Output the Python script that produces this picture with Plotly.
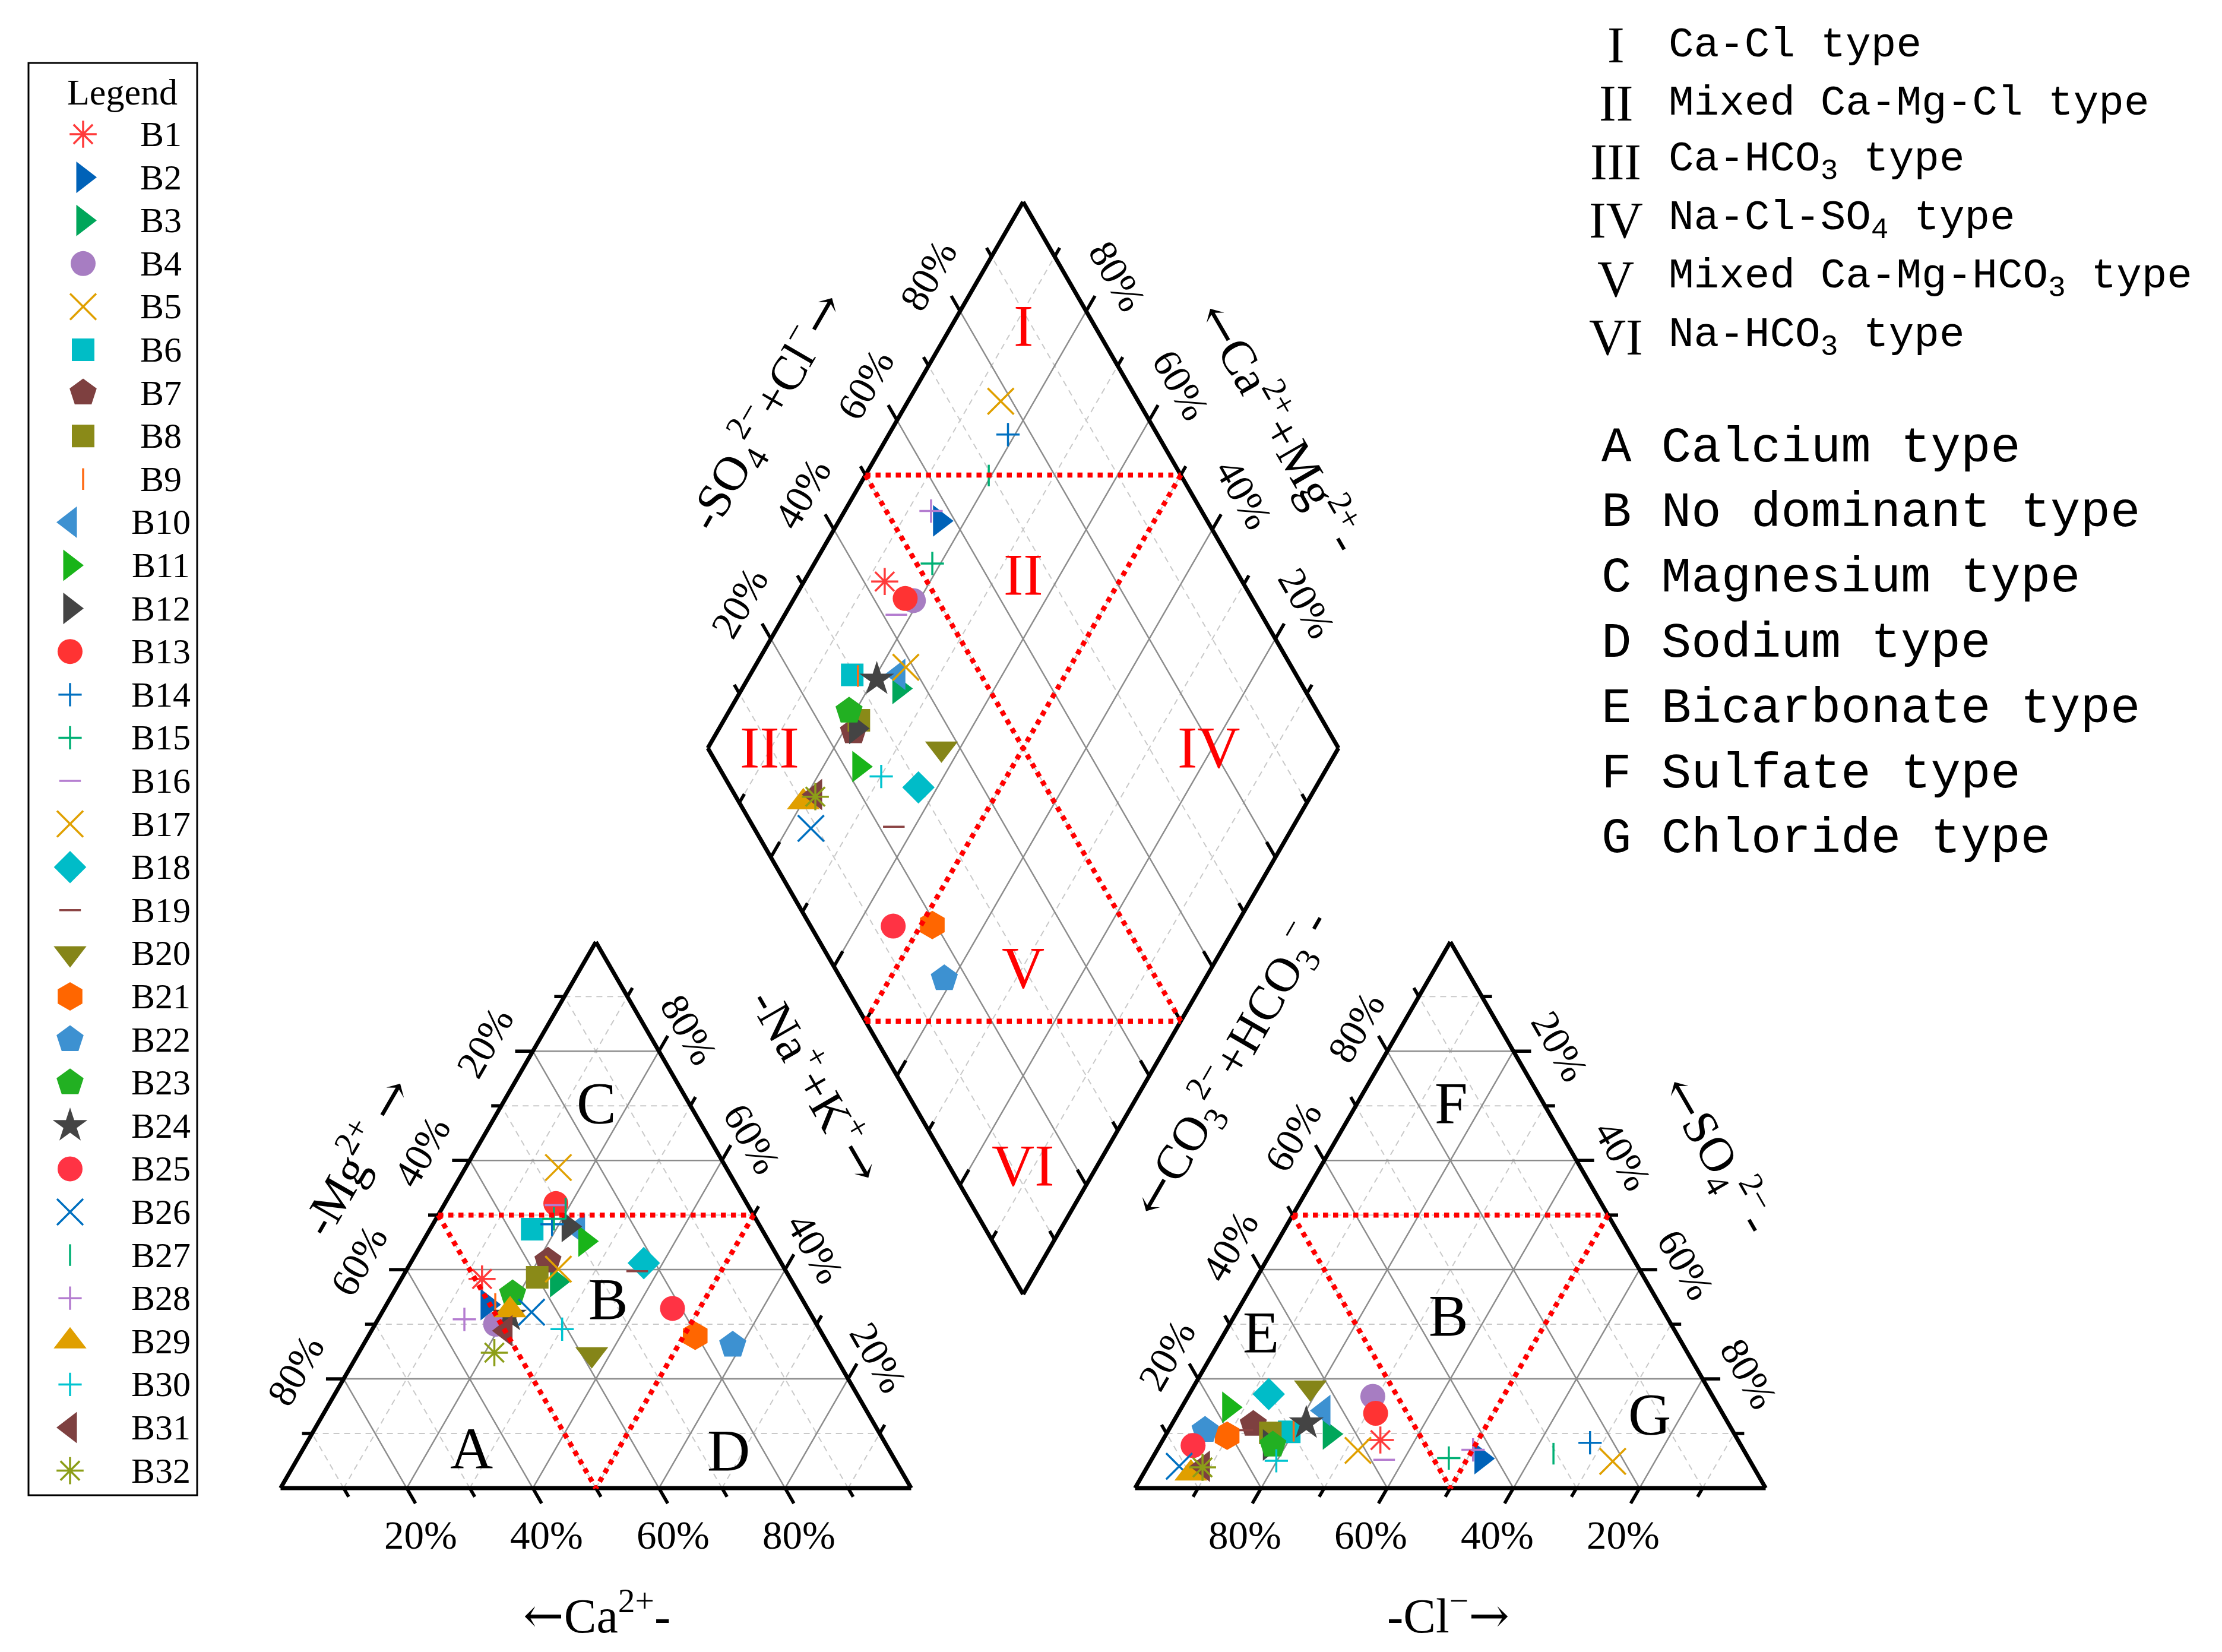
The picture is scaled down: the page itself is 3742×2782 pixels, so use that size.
import math
import plotly.graph_objects as go

# ---------------- data (percent of meq) ----------------
samples = [f"B{i}" for i in range(1, 33)]
ca = [48.9, 50.4, 37.3, 50.9, 26.6, 36.4, 36.8, 40.0, 49.1, 29.1, 29.1, 30.4, 30.3, 32.8, 32.0, 30.5,
      35.9, 21.8, 23.6, 38.4, 20.3, 15.2, 45.4, 47.9, 21.4, 44.1, 29.2, 55.4, 47.3, 40.8, 49.9, 53.7]
mg = [38.3, 33.6, 37.8, 30.0, 58.7, 47.4, 41.6, 38.6, 33.7, 47.4, 45.2, 47.9, 52.1, 48.3, 49.3, 51.8,
      40.1, 41.2, 39.7, 24.5, 27.9, 26.2, 35.6, 31.6, 32.9, 32.2, 51.2, 30.9, 32.6, 29.1, 28.8, 24.8]
na_k = [12.8, 16.0, 24.9, 19.1, 14.7, 16.2, 21.6, 21.4, 17.2, 23.5, 25.7, 21.7, 17.6, 18.9, 18.7, 17.7,
        24.0, 37.0, 36.7, 37.1, 51.8, 58.6, 19.0, 20.5, 45.7, 23.7, 19.6, 13.7, 20.1, 30.1, 21.3, 21.5]
hco3 = [56.7, 42.4, 64.2, 53.9, 21.8, 70.4, 75.4, 73.5, 69.6, 63.0, 77.7, 74.7, 55.0, 23.7, 47.5, 57.9,
        61.2, 70.2, 77.7, 63.0, 80.6, 83.6, 74.2, 66.9, 86.9, 91.0, 30.5, 42.9, 89.8, 75.1, 87.2, 87.4]
so4 = [8.8, 5.4, 9.9, 16.8, 4.9, 10.3, 11.7, 10.1, 10.5, 14.2, 14.8, 7.9, 13.7, 8.3, 5.5, 5.2,
       6.9, 17.2, 10.6, 18.4, 9.6, 10.6, 7.9, 11.9, 7.8, 4.0, 6.3, 7.0, 2.7, 5.0, 4.0, 3.8]
cl = [34.5, 52.2, 25.9, 29.3, 73.3, 19.3, 12.9, 16.4, 19.9, 22.8, 7.5, 17.4, 31.3, 68.0, 47.0, 36.9,
      31.9, 12.6, 11.7, 18.6, 9.8, 5.8, 17.9, 21.2, 5.3, 5.0, 63.2, 50.1, 7.5, 19.9, 8.8, 8.8]

symbols = ["asterisk-open", "triangle-right", "triangle-right", "circle", "x-thin-open", "square",
           "pentagon", "square", "line-ns-open", "triangle-left", "triangle-right", "triangle-right",
           "circle", "cross-thin-open", "cross-thin-open", "line-ew-open", "x-thin-open", "diamond",
           "line-ew-open", "triangle-down", "hexagon", "pentagon", "pentagon", "star", "circle",
           "x-thin-open", "line-ns-open", "cross-thin-open", "triangle-up", "cross-thin-open",
           "triangle-left", "asterisk-open"]
colors = ["#FF3B3B", "#0062B8", "#00A65A", "#A77DC2", "#E0A000", "#00BDC6", "#7E4040", "#8A8A18",
          "#FF6A13", "#3D91D1", "#19B419", "#444444", "#FF3333", "#0070C0", "#00B074", "#B47CD0",
          "#E0A000", "#00BCC8", "#8B4444", "#858518", "#FF6600", "#3D91D1", "#22B022", "#444444",
          "#FF3344", "#0070C0", "#00B074", "#B47CD0", "#E09F00", "#00C4D0", "#7E4040", "#8C9E18"]

tick_vals = [20, 40, 60, 80]

# ---------------- geometry ----------------
W, HP = 3742, 2782          # page (window) size
OFF = 8                     # body margin of the html page
FW, FH = W - 2 * OFF, HP - 2 * OFF
PPU = 10.62                 # pixels per percent unit
ORIG = (472.5, 2506.0)      # page pixel position of the cation triangle's lower-left corner
GAP = 35.5
H = math.sqrt(3) / 2
X0R = 100 + GAP
XB, YB = 100 + GAP / 2, GAP / 2 * math.sqrt(3)


def px2u(px, py):
    return (px - ORIG[0]) / PPU, (ORIG[1] - py) / PPU


def px2paper(px, py):
    return (px - OFF) / FW, 1 - (py - OFF) / FH


def L(c, m, n):
    t = c + m + n
    m, n = m * 100 / t, n * 100 / t
    return n + m / 2, m * H


def R(hc, s, c):
    t = hc + s + c
    s, c = s * 100 / t, c * 100 / t
    return X0R + c + s / 2, s * H


def D(a, b):
    return XB - 0.5 * a + 0.5 * b, YB + H * (a + b)


SERIF = "Liberation Serif, Times New Roman, serif"
MONO = "Liberation Mono, Courier New, monospace"
LA = '<span style="font-family:DejaVu Serif">←</span>'
RA = '<span style="font-family:DejaVu Serif">→</span>'

fig = go.Figure()


class Seg:
    def __init__(self):
        self.x, self.y = [], []

    def add(self, p, q):
        self.x += [p[0], q[0], None]
        self.y += [p[1], q[1], None]


solid, dashed = Seg(), Seg()
for k in range(10, 100, 10):
    g = solid if k % 20 == 0 else dashed
    g.add(L(100 - k, k, 0), L(0, k, 100 - k))
    g.add(L(100 - k, 0, k), L(0, 100 - k, k))
    g.add(L(k, 0, 100 - k), L(k, 100 - k, 0))
    g.add(R(100 - k, k, 0), R(0, k, 100 - k))
    g.add(R(100 - k, 0, k), R(0, 100 - k, k))
    g.add(R(k, 0, 100 - k), R(k, 100 - k, 0))
    g.add(D(k, 0), D(k, 100))
    g.add(D(0, k), D(100, k))

fig.add_trace(go.Scatter(x=dashed.x, y=dashed.y, mode="lines", hoverinfo="skip",
                         line=dict(color="#c9c9c9", width=2, dash="10px,8px")))
fig.add_trace(go.Scatter(x=solid.x, y=solid.y, mode="lines", hoverinfo="skip",
                         line=dict(color="#8c8c8c", width=2.5)))

# ticks
ticks = Seg()
for k in range(10, 100, 10):
    ln = 2.8 if k % 20 == 0 else 1.6

    def tk(p, d):
        ticks.add(p, (p[0] + d[0] * ln, p[1] + d[1] * ln))
    tk(L(100 - k, 0, k), (0.5, -H))
    tk(L(100 - k, k, 0), (-1, 0))
    tk(L(0, k, 100 - k), (0.5, H))
    tk(R(100 - k, 0, k), (-0.5, -H))
    tk(R(100 - k, k, 0), (-0.5, H))
    tk(R(0, k, 100 - k), (1, 0))
    tk(D(100, k), (-0.5, H))
    tk(D(k, 100), (0.5, H))
    tk(D(k, 0), (0.5, H))
    tk(D(0, k), (-0.5, H))
fig.add_trace(go.Scatter(x=ticks.x, y=ticks.y, mode="lines", hoverinfo="skip",
                         line=dict(color="black", width=5.5)))

# outlines
out = Seg()
for pts in ([L(100, 0, 0), L(0, 0, 100), L(0, 100, 0)],
            [R(100, 0, 0), R(0, 0, 100), R(0, 100, 0)],
            [D(0, 0), D(100, 0), D(100, 100), D(0, 100)]):
    for i in range(len(pts)):
        out.add(pts[i], pts[(i + 1) % len(pts)])
fig.add_trace(go.Scatter(x=out.x, y=out.y, mode="lines", hoverinfo="skip",
                         line=dict(color="black", width=7)))


def msize(sym):
    return {"circle": 42, "square": 38, "triangle-right": 46, "triangle-left": 46, "triangle-up": 48,
            "triangle-down": 48, "pentagon": 48, "hexagon": 48, "diamond": 42, "star": 44,
            "x-thin-open": 44, "cross-thin-open": 28, "asterisk-open": 38,
            "line-ns-open": 26, "line-ew-open": 26}[sym]


# samples: one trace per sample (cation point, anion point, diamond point)
for i, name in enumerate(samples):
    p1 = L(ca[i], mg[i], na_k[i])
    p2 = R(hco3[i], so4[i], cl[i])
    a = (ca[i] + mg[i]) * 100 / (ca[i] + mg[i] + na_k[i])
    b = (so4[i] + cl[i]) * 100 / (hco3[i] + so4[i] + cl[i])
    p3 = D(a, b)
    sym = symbols[i]
    is_open = sym.endswith("open")
    fig.add_trace(go.Scatter(
        x=[p1[0], p2[0], p3[0]], y=[p1[1], p2[1], p3[1]], mode="markers", name=name,
        marker=dict(symbol=sym, size=msize(sym), color=colors[i],
                    line=dict(color=colors[i], width=3.5 if is_open else 0))))

# red dotted classification lines (drawn over the points)
red = Seg()
red.add(L(50, 50, 0), L(0, 50, 50))
red.add(L(50, 50, 0), L(50, 0, 50))
red.add(L(0, 50, 50), L(50, 0, 50))
red.add(R(50, 50, 0), R(0, 50, 50))
red.add(R(50, 50, 0), R(50, 0, 50))
red.add(R(0, 50, 50), R(50, 0, 50))
red.add(D(100, 50), D(50, 100))
red.add(D(50, 0), D(0, 50))
red.add(D(100, 50), D(0, 50))
red.add(D(50, 100), D(50, 0))
fig.add_trace(go.Scatter(x=red.x, y=red.y, mode="lines", hoverinfo="skip",
                         line=dict(color="#FF0000", width=8.5, dash="dot")))

# legend glyphs (manual legend)
ROW0, ROWS = 226, 72.6
for i, name in enumerate(samples):
    gx, gy = px2u(140 if i < 9 else 118, ROW0 + i * ROWS)
    sym = symbols[i]
    is_open = sym.endswith("open")
    fig.add_trace(go.Scatter(
        x=[gx], y=[gy], mode="markers", hoverinfo="skip",
        marker=dict(symbol=sym, size=msize(sym), color=colors[i],
                    line=dict(color=colors[i], width=3.5 if is_open else 0))))

ann = []


def txt(x, y, text, size, angle=0, color="black", family=SERIF, xanchor="center", ref="x"):
    d = dict(x=x, y=y, text=text, showarrow=False, textangle=angle, xanchor=xanchor, yanchor="middle",
             font=dict(size=size, color=color, family=family))
    if ref == "paper":
        d.update(xref="paper", yref="paper")
    else:
        d.update(xref="x", yref="y")
    ann.append(d)


def ptxt(px, py, text, size, **kw):
    x, y = px2u(px, py)
    txt(x, y, text, size, **kw)


def papertxt(px, py, text, size, **kw):
    x, y = px2paper(px, py)
    txt(x, y, text, size, ref="paper", **kw)


# legend text
for i, name in enumerate(samples):
    ptxt(271, ROW0 + i * ROWS, name, 60)
ptxt(206, 155, "Legend", 62)

# tick labels
TS = 67
for k in tick_vals:
    p = L(100 - k, 0, k)
    txt(p[0] + 2.2, -7.4, f"{k}%", TS)
    p = L(100 - k, k, 0)
    txt(p[0] - 7.6, p[1] + 1.4, f"{100 - k}%", TS, angle=-60)
    p = L(0, k, 100 - k)
    txt(p[0] + 4.8, p[1] + 3.4, f"{k}%", TS, angle=60)
    p = R(100 - k, 0, k)
    txt(p[0] - 2.6, -7.4, f"{100 - k}%", TS)
    p = R(100 - k, k, 0)
    txt(p[0] - 5.0, p[1] + 3.8, f"{k}%", TS, angle=-60)
    p = R(0, k, 100 - k)
    txt(p[0] + 7.4, p[1] + 0.8, f"{100 - k}%", TS, angle=60)
    p = D(100, k)
    txt(p[0] - 5.0, p[1] + 5.7, f"{k}%", TS, angle=-60)
    p = D(k, 100)
    txt(p[0] + 5.0, p[1] + 5.6, f"{k}%", TS, angle=60)

# axis titles
AT = 82
txt(11.7, 52.8, "-Mg<sup>2+</sup> " + RA, AT, angle=-60)
txt(50.1, -19.8, LA + "Ca<sup>2+</sup>-", AT)
txt(85.4, 64.0, "-Na<sup>+</sup>+K<sup>+</sup>" + RA, AT, angle=60)
txt(150.6, 67.4, LA + "CO<sub>3</sub><sup>2−</sup>+HCO<sub>3</sub><sup>−</sup>-", AT, angle=-60)
txt(185.2, -19.8, "-Cl<sup>−</sup>" + RA, AT)
txt(227.9, 52.8, LA + "SO<sub>4</sub><sup>2−</sup>-", AT, angle=60)
txt(76.9, 170.8, "-SO<sub>4</sub><sup>2−</sup>+Cl<sup>−</sup>" + RA, AT, angle=-60)
txt(158.9, 168.5, LA + "Ca<sup>2+</sup>+Mg<sup>2+</sup>-", AT, angle=60)

# region labels
RS = 100
for (x, y, t) in [(117.75, 184.3, "I"), (117.75, 144.9, "II"), (77.5, 117.5, "III"),
                  (147.2, 117.5, "IV"), (117.75, 82.5, "V"), (117.75, 51.2, "VI")]:
    txt(x, y, t, RS, color="#FF0000")
for (x, y, t) in [(30.3, 6.3, "A"), (52.0, 30.0, "B"), (50.1, 61.1, "C"), (71.0, 6.0, "D"),
                  (155.5, 24.7, "E"), (185.2, 27.4, "B"), (185.6, 61.1, "F"), (217.1, 11.7, "G")]:
    txt(x, y, t, 100)

# explanation text blocks
types1 = ["Ca-Cl type", "Mixed Ca-Mg-Cl type", "Ca-HCO<sub>3</sub> type", "Na-Cl-SO<sub>4</sub> type",
          "Mixed Ca-Mg-HCO<sub>3</sub> type", "Na-HCO<sub>3</sub> type"]
numerals = ["I", "II", "III", "IV", "V", "VI"]
for i, (nm, t) in enumerate(zip(numerals, types1)):
    py = 76 + i * 98.4
    papertxt(2721, py, nm, 86)
    papertxt(2808, py, t, 71, family=MONO, xanchor="left")
types2 = ["A Calcium type", "B No dominant type", "C Magnesium type", "D Sodium type",
          "E Bicarbonate type", "F Sulfate type", "G Chloride type"]
for i, t in enumerate(types2):
    papertxt(2695, 754 + i * 109.8, t, 84, family=MONO, xanchor="left")

xr = [px2u(OFF, 0)[0], px2u(OFF + FW, 0)[0]]
yr = [px2u(0, OFF + FH)[1], px2u(0, OFF)[1]]
lx0, ly0 = px2paper(48, 2518)
lx1, ly1 = px2paper(332, 106)

fig.update_layout(
    width=FW, height=FH, autosize=False,
    margin=dict(l=0, r=0, t=0, b=0, pad=0),
    paper_bgcolor="white", plot_bgcolor="white",
    showlegend=False,
    xaxis=dict(range=xr, visible=False, showgrid=False, zeroline=False),
    yaxis=dict(range=yr, visible=False, showgrid=False, zeroline=False),
    annotations=ann,
    shapes=[dict(type="rect", xref="paper", yref="paper", x0=lx0, x1=lx1, y0=ly0, y1=ly1,
                 line=dict(color="black", width=3))],
)

fig.write_html("out.html")
